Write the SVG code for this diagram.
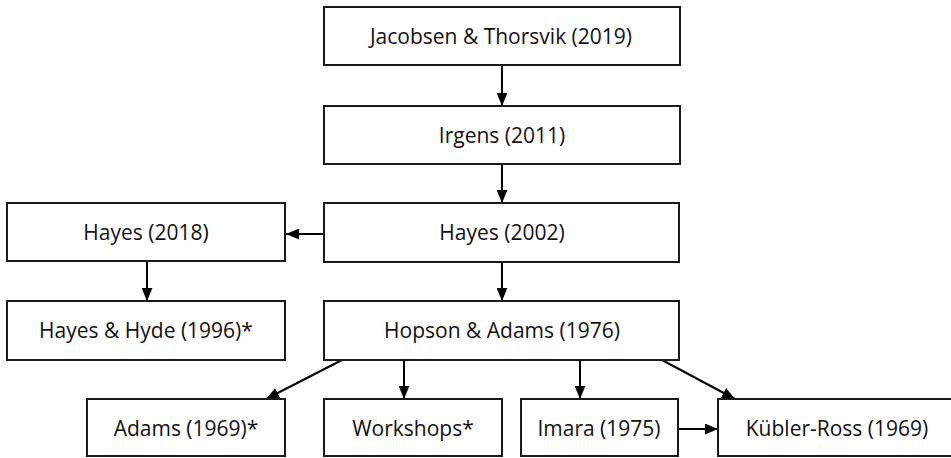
<svg xmlns="http://www.w3.org/2000/svg" width="951" height="458" viewBox="0 0 951 458">
<style>
.box{fill:#fff;stroke:#1a1a1a;stroke-width:2}
.lbl{font-family:"Open Sans","Liberation Sans",Arial,sans-serif;font-size:21px;fill:#111;text-anchor:middle;dominant-baseline:central}
.c{stroke:#000;stroke-width:2;fill:none;marker-end:url(#ah)}
</style>
<defs>
<marker id="ah" viewBox="0 0 12 10" refX="12" refY="5" markerWidth="6.5" markerHeight="5.5" markerUnits="strokeWidth" orient="auto">
<path d="M0,0 L12,5 L0,10 z" fill="#000"/>
</marker>
</defs>
<rect width="951" height="458" fill="#fff"/>
<g id="connectors">
<line class="c" x1="502" y1="65" x2="502" y2="106"/>
<line class="c" x1="502" y1="164" x2="502" y2="203"/>
<line class="c" x1="324" y1="234" x2="286" y2="234"/>
<line class="c" x1="147" y1="261" x2="147" y2="301"/>
<line class="c" x1="502" y1="262" x2="502" y2="301"/>
<line class="c" x1="342" y1="360" x2="266" y2="399"/>
<line class="c" x1="404" y1="360" x2="404" y2="399"/>
<line class="c" x1="580" y1="360" x2="580" y2="399"/>
<line class="c" x1="662" y1="360" x2="735" y2="399"/>
<line class="c" x1="679" y1="429" x2="718" y2="429"/>
</g>
<g id="jacobsen"><rect class="box" x="324" y="7" width="356" height="58"/><text class="lbl" x="501" y="36">Jacobsen &amp; Thorsvik (2019)</text></g>
<g id="irgens"><rect class="box" x="324" y="106" width="356" height="58"/><text class="lbl" x="502" y="135">Irgens (2011)</text></g>
<g id="hayes2002"><rect class="box" x="324" y="203" width="355" height="59"/><text class="lbl" x="502" y="232">Hayes (2002)</text></g>
<g id="hayes2018"><rect class="box" x="7" y="203" width="278" height="58"/><text class="lbl" x="146" y="232">Hayes (2018)</text></g>
<g id="hayeshyde"><rect class="box" x="7" y="301" width="278" height="59"/><text class="lbl" x="146" y="330">Hayes &amp; Hyde (1996)*</text></g>
<g id="hopson"><rect class="box" x="324" y="301" width="355" height="59"/><text class="lbl" x="502" y="330">Hopson &amp; Adams (1976)</text></g>
<g id="adams"><rect class="box" x="87" y="399" width="198" height="57"/><text class="lbl" x="186" y="428">Adams (1969)*</text></g>
<g id="workshops"><rect class="box" x="324" y="399" width="178" height="57"/><text class="lbl" x="413" y="428">Workshops*</text></g>
<g id="imara"><rect class="box" x="521" y="399" width="157" height="57"/><text class="lbl" x="599" y="428">Imara (1975)</text></g>
<g id="kubler"><rect class="box" x="718" y="399" width="236" height="57"/><text class="lbl" x="837" y="428">Kübler-Ross (1969)</text></g>
</svg>
